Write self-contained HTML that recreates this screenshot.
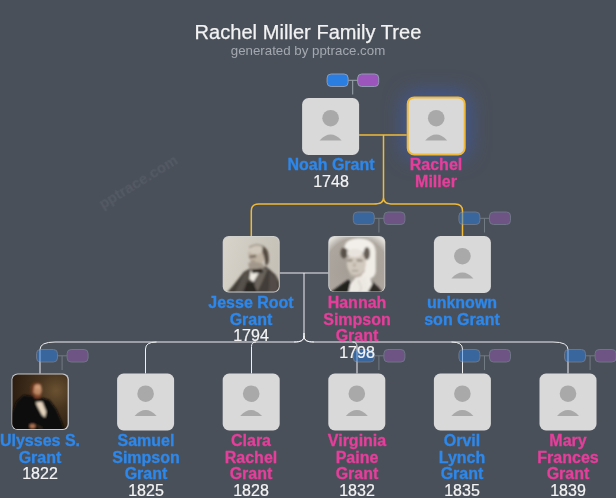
<!DOCTYPE html>
<html><head><meta charset="utf-8"><title>Rachel Miller Family Tree</title>
<style>
html,body{margin:0;padding:0;}
html{width:616px;height:498px;overflow:hidden;background:#4a505a;}
body{width:616px;height:498px;overflow:hidden;background:#4a505a;font-family:"Liberation Sans",sans-serif;position:relative;}
#t{position:absolute;left:0;top:20.8px;width:616px;text-align:center;color:#f2f2f2;font-size:20px;line-height:22px;letter-spacing:0.05px;-webkit-text-stroke:0.25px #f2f2f2;}
#s{position:absolute;left:0;top:43px;width:616px;text-align:center;color:#a4a9b0;font-size:13.3px;line-height:15px;}
#wm{position:absolute;left:88px;top:172.5px;width:100px;text-align:center;color:#545a64;font-size:15px;transform:rotate(-31.5deg);font-weight:bold;filter:blur(0.3px);}
#wrap{position:absolute;left:0;top:0;width:616px;height:498px;overflow:hidden;contain:strict;}
svg{position:absolute;left:0;top:0;}
#gl{position:absolute;left:407.7px;top:97.4px;width:57px;height:57px;border-radius:7px;box-shadow:0 0 20px 4px rgba(58,92,185,0.62);}
.lb,#t,#s{will-change:transform;}
.lb{position:absolute;width:120px;text-align:center;font-size:16px;line-height:16.5px;font-weight:bold;white-space:nowrap;-webkit-text-stroke:0.3px currentColor;}
.ln{display:inline-block;}
.yr{display:inline-block;color:#f4f4f4;font-weight:normal;-webkit-text-stroke:0.2px #f4f4f4;font-size:16px;transform:translateY(0px);}
</style></head><body>
<div id="wrap">
<div id="t">Rachel Miller Family Tree</div>
<div id="s">generated by pptrace.com</div>
<div id="wm">pptrace.com</div>
<div id="gl"></div>
<svg width="616" height="498" viewBox="0 0 616 498">
<defs>
<filter id="glow" x="-150%" y="-150%" width="400%" height="400%"><feGaussianBlur stdDeviation="10"/></filter>
<filter id="b1" x="-20%" y="-20%" width="140%" height="140%"><feGaussianBlur stdDeviation="0.85"/></filter>
<clipPath id="cp"><rect x="0.9" y="0.9" width="55.2" height="54.6" rx="5.2"/></clipPath>
<linearGradient id="jbg" x1="0" y1="0" x2="1" y2="0.3"><stop offset="0" stop-color="#d8d4cb"/><stop offset="1" stop-color="#c6c1b7"/></linearGradient>
<radialGradient id="hbg" cx="0.5" cy="0.6" r="0.78"><stop offset="0" stop-color="#a19b93"/><stop offset="0.72" stop-color="#aca69e"/><stop offset="0.9" stop-color="#e2dfda"/><stop offset="1" stop-color="#f4f3f0"/></radialGradient>
<radialGradient id="ubg" cx="0.78" cy="0.3" r="0.8"><stop offset="0" stop-color="#6a5131"/><stop offset="0.4" stop-color="#47341f"/><stop offset="1" stop-color="#2a1c10"/></radialGradient>



</defs>

<path d="M359.1 135 H406.7 M383.5 135 V197.5 M383.5 197.5 C383.5 202.5 380.5 204.0 373.5 204.0 H258.8 Q251.3 204.0 251.3 211.0 V236 M383.5 197.5 C383.5 202.5 386.5 204.0 393.5 204.0 H455.0 Q462.5 204.0 462.5 211.0 V236" stroke="#f0ba38" stroke-width="1.5" fill="none"/>
<path d="M279.7 273 H328.3 M304.0 273 V335.5 M304.0 335.5 C304.0 340.5 301.0 342.0 294.0 342.0 H55.0 Q40.0 342.0 40.0 349.5 V373.5 M156.5 342.0 Q145.5 342.0 145.5 349.0 V373.5 M256.0 342.0 Q251.5 342.0 251.5 346.5 V373.5 M352.5 342.0 Q357.0 342.0 357.0 346.5 V373.5 M451.5 342.0 Q462.5 342.0 462.5 349.0 V373.5 M304.0 335.5 C304.0 340.5 307.0 342.0 314.0 342.0 H553.0 Q568.0 342.0 568.0 349.5 V373.5" stroke="#eef0f2" stroke-width="1" fill="none"/>
<path d="M304.0 333.0 V335.5 C304.0 340.5 301.0 342.0 294.0 342.0 M304.0 333.0 V335.5 C304.0 340.5 307.0 342.0 314.0 342.0" stroke="#ffffff" stroke-width="1" fill="none" opacity="0.8"/>
<g opacity="1"><path d="M348.1 80.3 H358.1 M352.7 80.3 V94.5" stroke="#9aa3ad" stroke-width="1" fill="none"/><rect x="327.1" y="74.0" width="21" height="12.5" rx="4" fill="#2a7de1" stroke="#8f9bb0" stroke-width="1"/><rect x="357.7" y="74.0" width="21" height="12.5" rx="4" fill="#9b55bd" stroke="#8f9bb0" stroke-width="1"/></g>
<rect x="302.1" y="98.0" width="57" height="57" rx="6.5" fill="#d9d9d9"/><circle cx="330.6" cy="118.2" r="8.3" fill="#a9a9a9"/><path d="M319.6 140.4 Q330.6 128.8 341.6 140.4 Z" fill="#a9a9a9"/>
<rect x="407.7" y="97.4" width="57" height="57" rx="6.5" fill="#d9d9d9" stroke="#f0ba38" stroke-width="2"/><circle cx="436.2" cy="118.2" r="8.3" fill="#a9a9a9"/><path d="M425.2 140.4 Q436.2 128.8 447.2 140.4 Z" fill="#a9a9a9"/>
<g opacity="0.5"><path d="M374.3 218.3 H384.3 M378.9 218.3 V232.5" stroke="#9aa3ad" stroke-width="1" fill="none"/><rect x="353.3" y="212.0" width="21" height="12.5" rx="4" fill="#2a7de1" stroke="#8f9bb0" stroke-width="1"/><rect x="383.9" y="212.0" width="21" height="12.5" rx="4" fill="#8f58b0" stroke="#8f9bb0" stroke-width="1"/></g>
<g opacity="0.5"><path d="M479.9 218.3 H489.9 M484.5 218.3 V232.5" stroke="#9aa3ad" stroke-width="1" fill="none"/><rect x="458.9" y="212.0" width="21" height="12.5" rx="4" fill="#2a7de1" stroke="#8f9bb0" stroke-width="1"/><rect x="489.5" y="212.0" width="21" height="12.5" rx="4" fill="#8f58b0" stroke="#8f9bb0" stroke-width="1"/></g>
<g transform="translate(222.7 236.0)">
 <rect width="57" height="56.4" rx="6" fill="#cfcfcc"/>
 <g clip-path="url(#cp)">
  <rect width="57" height="57" fill="url(#jbg)"/>
  <g filter="url(#b1)">
   <path d="M3 58 L10 50 L21 36 L28 32 L36 30 L44 31 L53 39 L58 48 L58 58 Z" fill="#433d38"/>
   <path d="M37 31 L45 33 L40 45 L34 57 L29 57 L33 44 Z" fill="#6a635c"/>
   <path d="M21 38 L28 33 L26 43 L19 57 L12 57 Z" fill="#57514b"/>
   <path d="M47 36 L54 42 L56 57 L46 57 Z" fill="#524c46"/>
   <path d="M28 34 L37 35 L31 46 L26.5 43 Z" fill="#eeeae1"/>
   <path d="M24 46 L31 47.5 L35 57 L21 57 Z" fill="#2a2623"/>
   <ellipse cx="34.2" cy="18.5" rx="8.6" ry="10.2" fill="#bfb3a3"/>
   <ellipse cx="33" cy="13.5" rx="7" ry="5" fill="#d0c8bb"/>
   <path d="M26.5 11.5 Q33 6.5 41 10.5" stroke="#8a8073" stroke-width="1.1" fill="none"/>
   <path d="M40 10 Q46 12.5 46 21 Q47 28 43 30 Q42 21 39.5 16 Z" fill="#544b41"/>
   <path d="M26.5 19.6 L33.5 18.6 L33.5 21.6 L27 22.6 Z" fill="#7d7265"/>
   <path d="M28 24.4 L32.5 24.2 L32.5 25.6 L28 25.8 Z" fill="#9a8f80"/>
   <path d="M25.5 27 Q32 24.5 40.5 28 L41 33 Q33 37 26.5 33 Z" fill="#a1978a"/>
   <path d="M28.5 33.4 L39.5 32.6 L40.5 36.6 L29.5 37.2 Z" fill="#26221f"/>
  </g>
 </g></g>
<g transform="translate(328.3 236.0)">
 <rect width="57" height="56" rx="6" fill="#d6d6d4"/>
 <g clip-path="url(#cp)">
  <rect width="57" height="57" fill="url(#hbg)"/>
  <g filter="url(#b1)">
   <path d="M1 57 L8 52 L20 43.5 L26 50 L22 57 Z" fill="#22201e"/>
   <path d="M37 57 L42 44 L50 51 L55 57 Z" fill="#2d2a28"/>
   <path d="M15.5 12 Q18 2 32 2.5 Q46 3 47.5 15 L47.5 34 Q48 40 42 42.5 L44 48 L39 57 L20 57 L22 48 L27 42 L36 36 L38 14 Z" fill="#f0ece6"/>
   <ellipse cx="30" cy="9.5" rx="13" ry="7" fill="#f2efea"/>
   <ellipse cx="28" cy="27.5" rx="9.6" ry="12" fill="#d2c9be"/>
   <ellipse cx="26.5" cy="17" rx="8" ry="4.2" fill="#e8e3dc"/>
   <ellipse cx="15.6" cy="17" rx="3.3" ry="5.4" fill="#585149"/>
   <ellipse cx="38.6" cy="17.4" rx="3.1" ry="6.4" fill="#665e56"/>
   <path d="M18.5 23.8 L24 23 L24 25.4 L19 25.6 Z M28.5 23 L34.5 23.8 L34.5 25.6 L28.5 25.4 Z" fill="#8f867b"/>
   <path d="M25 27 L27.5 27 L27.5 31 L24.5 31 Z" fill="#bcb2a6"/>
   <path d="M23.5 34.2 L30 34.2 L30 35.3 L23.5 35.3 Z" fill="#978c81"/>
   <path d="M20 36 Q27 42 35 36 L33 40 Q27 43 22 40 Z" fill="#b9b0a5"/>
   <path d="M26 44 L38 40 L40 57 L22 57 Z" fill="#ece8e2"/>
   <path d="M30 44 L33 52 L31 57" stroke="#c9c3bb" stroke-width="0.8" fill="none"/>
  </g>
 </g></g>
<rect x="433.9" y="236.0" width="57" height="57" rx="6.5" fill="#d9d9d9"/><circle cx="462.4" cy="256.2" r="8.3" fill="#a9a9a9"/><path d="M451.4 278.4 Q462.4 266.8 473.4 278.4 Z" fill="#a9a9a9"/>
<g opacity="0.5"><path d="M57.5 355.8 H67.5 M62.1 355.8 V370.0" stroke="#9aa3ad" stroke-width="1" fill="none"/><rect x="36.5" y="349.5" width="21" height="12.5" rx="4" fill="#2a7de1" stroke="#8f9bb0" stroke-width="1"/><rect x="67.1" y="349.5" width="21" height="12.5" rx="4" fill="#8f58b0" stroke="#8f9bb0" stroke-width="1"/></g>
<g opacity="0.5"><path d="M374.3 355.8 H384.3 M378.9 355.8 V370.0" stroke="#9aa3ad" stroke-width="1" fill="none"/><rect x="353.3" y="349.5" width="21" height="12.5" rx="4" fill="#2a7de1" stroke="#8f9bb0" stroke-width="1"/><rect x="383.9" y="349.5" width="21" height="12.5" rx="4" fill="#8f58b0" stroke="#8f9bb0" stroke-width="1"/></g>
<g opacity="0.5"><path d="M479.9 355.8 H489.9 M484.5 355.8 V370.0" stroke="#9aa3ad" stroke-width="1" fill="none"/><rect x="458.9" y="349.5" width="21" height="12.5" rx="4" fill="#2a7de1" stroke="#8f9bb0" stroke-width="1"/><rect x="489.5" y="349.5" width="21" height="12.5" rx="4" fill="#8f58b0" stroke="#8f9bb0" stroke-width="1"/></g>
<g opacity="0.5"><path d="M585.5 355.8 H595.5 M590.1 355.8 V370.0" stroke="#9aa3ad" stroke-width="1" fill="none"/><rect x="564.5" y="349.5" width="21" height="12.5" rx="4" fill="#2a7de1" stroke="#8f9bb0" stroke-width="1"/><rect x="595.1" y="349.5" width="21" height="12.5" rx="4" fill="#8f58b0" stroke="#8f9bb0" stroke-width="1"/></g>
<g transform="translate(11.5 373.5)">
 <rect width="57.4" height="56.4" rx="6" fill="#c6c9cd"/>
 <g clip-path="url(#cp)">
  <rect width="57" height="57" fill="url(#ubg)"/>
  <g filter="url(#b1)">
   <path d="M-1 58 L0 40 L5 28 L12 21.5 L21 22.5 L30 24 L38 26.5 L45 36 L51 50 L53 58 Z" fill="#0c0a09"/>
   <path d="M23 26 L30 26.4 L34.6 38 L33.6 44 L30.5 41.5 L26 33 Z" fill="#e6d5be"/>
   <g transform="translate(-1.4 0.4)">
   <ellipse cx="27.2" cy="15.8" rx="4.6" ry="6.4" fill="#bd8764"/>
   <path d="M20.6 16 Q20 9 26 8.4 Q31.6 8.4 31.2 11.6 Q25.5 10.8 23.8 14 L23 21.5 Q20.6 20 20.6 16 Z" fill="#6a341e"/>
   <path d="M23.8 19.2 Q26.8 21.8 31 20.2 L30.2 24 Q26.5 25.8 23.8 23 Z" fill="#80452a"/>
   <ellipse cx="27.6" cy="13" rx="3.4" ry="2.6" fill="#cf9a76"/>
   </g>
   <path d="M22 25.8 L31 25 L32 28 L23 29 Z" fill="#0e0c0b"/>
   <ellipse cx="21" cy="52.6" rx="3" ry="2" fill="#b07453"/>
   <path d="M25 52 L31 55" stroke="#5a3f2e" stroke-width="0.9" fill="none"/>
  </g>
 </g></g>
<rect x="117.1" y="373.5" width="57" height="57" rx="6.5" fill="#d9d9d9"/><circle cx="145.6" cy="393.7" r="8.3" fill="#a9a9a9"/><path d="M134.6 415.9 Q145.6 404.3 156.6 415.9 Z" fill="#a9a9a9"/>
<rect x="222.7" y="373.5" width="57" height="57" rx="6.5" fill="#d9d9d9"/><circle cx="251.2" cy="393.7" r="8.3" fill="#a9a9a9"/><path d="M240.2 415.9 Q251.2 404.3 262.2 415.9 Z" fill="#a9a9a9"/>
<rect x="328.3" y="373.5" width="57" height="57" rx="6.5" fill="#d9d9d9"/><circle cx="356.8" cy="393.7" r="8.3" fill="#a9a9a9"/><path d="M345.8 415.9 Q356.8 404.3 367.8 415.9 Z" fill="#a9a9a9"/>
<rect x="433.9" y="373.5" width="57" height="57" rx="6.5" fill="#d9d9d9"/><circle cx="462.4" cy="393.7" r="8.3" fill="#a9a9a9"/><path d="M451.4 415.9 Q462.4 404.3 473.4 415.9 Z" fill="#a9a9a9"/>
<rect x="539.5" y="373.5" width="57" height="57" rx="6.5" fill="#d9d9d9"/><circle cx="568.0" cy="393.7" r="8.3" fill="#a9a9a9"/><path d="M557.0 415.9 Q568.0 404.3 579.0 415.9 Z" fill="#a9a9a9"/>
</svg>
<div class="lb" style="left:270.6px;top:156.9px;color:#2d88ec"><span class="ln">Noah Grant</span><br><span class="yr">1748</span></div>
<div class="lb" style="left:376.2px;top:156.9px;color:#e63e9b"><span class="ln">Rachel</span><br><span class="ln">Miller</span></div>
<div class="lb" style="left:191.2px;top:295.0px;color:#2d88ec"><span class="ln">Jesse Root</span><br><span class="ln">Grant</span><br><span class="yr">1794</span></div>
<div class="lb" style="left:296.8px;top:295.0px;color:#e63e9b"><span class="ln">Hannah</span><br><span class="ln">Simpson</span><br><span class="ln">Grant</span><br><span class="yr">1798</span></div>
<div class="lb" style="left:402.4px;top:295.0px;color:#2d88ec"><span class="ln">unknown</span><br><span class="ln">son Grant</span></div>
<div class="lb" style="left:-20.0px;top:432.6px;color:#2d88ec"><span class="ln">Ulysses S.</span><br><span class="ln">Grant</span><br><span class="yr">1822</span></div>
<div class="lb" style="left:85.6px;top:432.6px;color:#2d88ec"><span class="ln">Samuel</span><br><span class="ln">Simpson</span><br><span class="ln">Grant</span><br><span class="yr">1825</span></div>
<div class="lb" style="left:191.2px;top:432.6px;color:#e63e9b"><span class="ln">Clara</span><br><span class="ln">Rachel</span><br><span class="ln">Grant</span><br><span class="yr">1828</span></div>
<div class="lb" style="left:296.8px;top:432.6px;color:#e63e9b"><span class="ln">Virginia</span><br><span class="ln">Paine</span><br><span class="ln">Grant</span><br><span class="yr">1832</span></div>
<div class="lb" style="left:402.4px;top:432.6px;color:#2d88ec"><span class="ln">Orvil</span><br><span class="ln">Lynch</span><br><span class="ln">Grant</span><br><span class="yr">1835</span></div>
<div class="lb" style="left:508.0px;top:432.6px;color:#e63e9b"><span class="ln">Mary</span><br><span class="ln">Frances</span><br><span class="ln">Grant</span><br><span class="yr">1839</span></div>
</div>
</body></html>
